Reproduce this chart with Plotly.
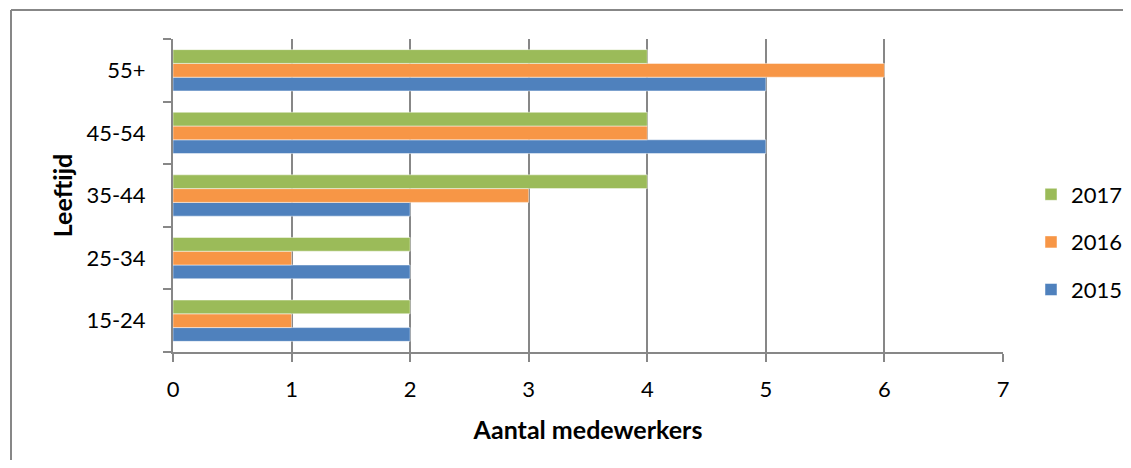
import plotly.graph_objects as go

categories = ["15-24", "25-34", "35-44", "45-54", "55+"]
years = ["2015", "2016", "2017"]
values_2015 = [2, 2, 2, 5, 5]
values_2016 = [1, 1, 3, 4, 6]
values_2017 = [2, 2, 4, 4, 4]
colors = ["#4F81BD", "#F79646", "#9BBB59"]
x_ticks = [0, 1, 2, 3, 4, 5, 6, 7]

series = [values_2015, values_2016, values_2017]
FONT = "Lato, Carlito, Calibri, sans-serif"
GRID = "#878787"
TICK_SIZE = 22
TITLE_SIZE = 25

# page body has an 8px margin: compensate so the chart sits where the reference has it
# and keep the figure small enough that no scrollbars appear
OFF = 8
W, H = 1131 - 2 * OFF, 468 - 2 * OFF
L, T = 173 - OFF, 39 - OFF
R = W - (1003 - OFF)
B = H - (352 - OFF)
pw, ph = W - L - R, H - T - B

def px2x(p):
    return (p - OFF - L) / pw

def py2y(p):
    return (H - B - (p - OFF)) / ph

fig = go.Figure()
for i, (name, vals, col) in enumerate(zip(years, series, colors)):
    fig.add_trace(go.Bar(
        y=categories, x=vals, name=name, orientation="h",
        marker=dict(color=col, line=dict(color="rgba(255,255,255,0.6)", width=0.8)),
        legendgroup=name, legendrank=len(years) - i,
    ))

border = dict(color=GRID, width=2)
fig.update_layout(
    width=W, height=H,
    margin=dict(l=L, r=R, t=T, b=B, autoexpand=False),
    barmode="group", bargap=0.34, bargroupgap=0,
    plot_bgcolor="white", paper_bgcolor="white",
    font=dict(family=FONT, size=TICK_SIZE, color="black"),
    showlegend=True,
    legend=dict(
        x=px2x(1031), y=py2y(242), xanchor="left", yanchor="middle",
        traceorder="grouped", tracegroupgap=16,
        font=dict(family=FONT, size=TICK_SIZE, color="black"),
        itemwidth=30,
    ),
    xaxis=dict(
        range=[0, 7], tickvals=x_ticks, showgrid=True, gridcolor=GRID, gridwidth=2,
        showline=True, linecolor=GRID, linewidth=2,
        ticks="outside", ticklen=8, tickcolor=GRID, tickwidth=2,
        zeroline=False, automargin=False, ticklabelstandoff=9,
        title=dict(text="<b>Aantal medewerkers</b>", font=dict(family=FONT, size=TITLE_SIZE), standoff=20),
    ),
    yaxis=dict(
        type="category", categoryorder="array", categoryarray=categories,
        showline=True, linecolor=GRID, linewidth=2,
        ticks="outside", ticklen=8, tickcolor=GRID, tickwidth=2,
        tickson="boundaries", showgrid=False, automargin=False,
        ticklabelstandoff=21,
        title=dict(text="<b>Leeftijd</b>", font=dict(family=FONT, size=TITLE_SIZE), standoff=7),
    ),
    shapes=[
        dict(type="line", xref="paper", yref="paper",
             x0=px2x(11), x1=px2x(1140), y0=py2y(10), y1=py2y(10), line=border),
        dict(type="line", xref="paper", yref="paper",
             x0=px2x(11), x1=px2x(11), y0=py2y(10), y1=py2y(470), line=border),
    ],
)

fig.write_html("out.html")
